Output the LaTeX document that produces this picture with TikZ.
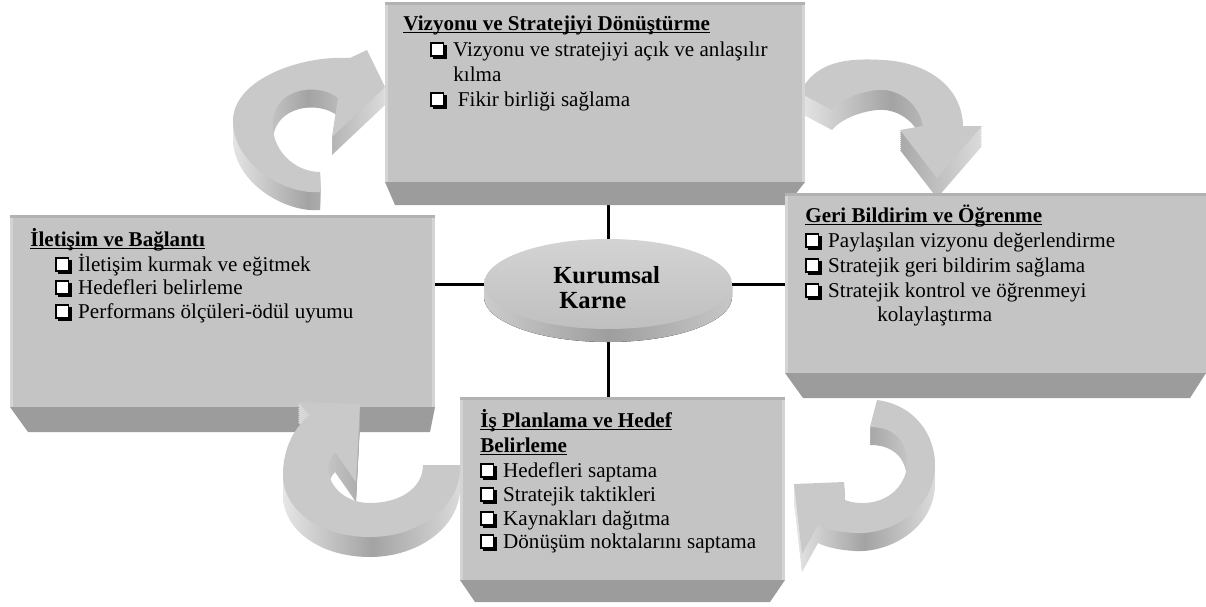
\documentclass[tikz,border=0pt]{standalone}
\usepackage{fontspec}
\setmainfont{Liberation Serif}
\usetikzlibrary{shapes.geometric}
\pgfdeclarelayer{back}
\pgfdeclarelayer{bg}
\pgfsetlayers{back,bg,main}
\definecolor{facec}{HTML}{C4C4C4}
\definecolor{bandc}{HTML}{9C9C9C}
\definecolor{edgec}{HTML}{D4D4D4}
\definecolor{topc}{HTML}{B2B2B2}
\newsavebox\ulbox
\newcommand\ulx[1]{\sbox\ulbox{#1}\rlap{\rule[-1.8pt]{\wd\ulbox}{0.9pt}}\usebox\ulbox}
\newcommand\cb{\tikz[baseline=0.3pt,x=1pt,y=1pt]{\fill[black] (1.4,-1.4) rectangle (9.2,6.6); \fill[white] (0,0) rectangle (7.8,8); \draw[line width=0.65pt] (0.33,0.33) rectangle (7.47,7.67);}}
% arrow outlines (pixel coordinates, y downward)
\newcommand\arrTL[1]{\path[#1] (320,172) -- (320,192) .. controls (285,195) and (235,165) .. (233,123) .. controls (231,80) and (300,55) .. (350,58) -- (367,50) -- (385,87) -- (332,137) -- (338,98) .. controls (318,82) and (276,88) .. (273,120) .. controls (270,150) and (295,172) .. (320,172) -- cycle;}
\newcommand\arrTR[1]{\path[#1] (800,93) .. controls (815,60) and (850,58) .. (883,60) .. controls (925,62) and (962,85) .. (963,126) -- (982,126) -- (937,178) -- (900,130) -- (923,126) .. controls (918,100) and (895,88) .. (877,90) .. controls (858,92) and (840,100) .. (832,110) -- cycle;}
\newcommand\arrBL[1]{\path[#1] (460,465) .. controls (462,505) and (420,537) .. (370,537) .. controls (320,537) and (283,510) .. (283,475) .. controls (283,450) and (293,428) .. (310,415) -- (298,402) -- (360,404) -- (356,482) -- (335,452) .. controls (318,470) and (335,503) .. (370,503) .. controls (400,503) and (423,488) .. (423,465) -- cycle;}
\newcommand\arrBR[1]{\path[#1] (877,400) .. controls (915,405) and (935,435) .. (935,465) .. controls (935,510) and (890,535) .. (855,533) .. controls (838,532) and (826,529) .. (818,525) -- (802,554) -- (794,484) -- (844,482) -- (845,500) .. controls (860,506) and (890,505) .. (903,480) .. controls (912,462) and (905,440) .. (893,433) .. controls (885,428) and (878,427) .. (870,427) -- cycle;}
\begin{document}
\begin{tikzpicture}[x=0.02cm,y=-0.02cm,
  face/.style={rectangle, fill=facec, inner sep=0pt, draw=none},
  band/.style={fill=bandc},
  edge/.style={fill=edgec},
  topedge/.style={fill=topc},
  txt/.style={anchor=base west, inner sep=0pt, font=\fontsize{12}{14}\selectfont},
  ttl/.style={anchor=base west, inner sep=0pt, font=\fontsize{12}{14}\selectfont\bfseries},
  ktxt/.style={anchor=base west, inner sep=0pt, font=\fontsize{14}{16}\selectfont\bfseries},
  conn/.style={line width=1.7pt, black},
  arrtop/.style={fill=black!21},
  arrside/.style={left color=black!10, right color=black!14, middle color=black!36},
  coreside/.style={left color=black!20, right color=black!22, middle color=black!38},
  coretop/.style={ellipse, inner sep=0pt, draw=none, top color=black!17, bottom color=black!25}]
\useasboundingbox (0,0) rectangle (1206,606);
\begin{pgfonlayer}{back}
\fill[white] (0,0) rectangle (1206,606);
\end{pgfonlayer}

% arrows behind boxes
\foreach \d in {18,16,...,2} {\arrTL{shift={(0,\d)}, arrside}}
\arrTL{arrtop}
\foreach \d in {20,18,...,2} {\arrTR{shift={(0,\d)}, arrside}}
\arrTR{arrtop}

% top box
\fill[band] (385,182) -- (805,182) -- (787,205) -- (395,205) -- cycle;
\node[face, minimum width=8.4cm, minimum height=3.6cm] (top) at (595,92) {};
\fill[topedge] (385,2) rectangle (805,5);
\fill[edge] (385,5) rectangle (388,182);
\fill[edge] (802,5) rectangle (805,182);

% left box
\fill[band] (10,407) -- (435,407) -- (430,432) -- (28,432) -- cycle;
\node[face, minimum width=8.5cm, minimum height=3.84cm] (lft) at (222.5,311) {};
\fill[topedge] (10,215) rectangle (435,218);
\fill[edge] (10,218) rectangle (13,407);
\fill[edge] (432,218) rectangle (435,407);

% right box
\fill[band] (785,373) -- (1206,373) -- (1190,398) -- (803,398) -- cycle;
\node[face, minimum width=8.42cm, minimum height=3.6cm] (rgt) at (995.5,283) {};
\fill[topedge] (785,193) rectangle (1206,196);
\fill[edge] (785,196) rectangle (788,373);

% bottom box
\fill[band] (460,580) -- (785,580) -- (770,602) -- (475,602) -- cycle;
\node[face, minimum width=6.5cm, minimum height=3.66cm] (bot) at (622.5,488.5) {};
\fill[topedge] (460,397) rectangle (785,400);
\fill[edge] (460,400) rectangle (463,580);
\fill[edge] (782,400) rectangle (785,580);

% arrows in front
\foreach \d in {20,18,...,2} {\arrBL{shift={(0,\d)}, arrside}}
\arrBL{arrtop}
\foreach \d in {18,16,...,2} {\arrBR{shift={(0,\d)}, arrside}}
\arrBR{arrtop}

% central disc
\fill[coreside] (484,284) -- (484,297) arc[start angle=180, end angle=0, x radius=124, y radius=45] -- (732,284) -- cycle;
\node[coretop, minimum width=4.96cm, minimum height=1.8cm] (core) at (608,284) {};
\node[ktxt] (k1) at (553,283) {Kurumsal};
\node[ktxt] (k2) at (559,308) {Karne};

% connectors behind
\begin{pgfonlayer}{bg}
\draw[conn] (core.center) -- (core.center |- top.center);
\draw[conn] (core.center) -- (core.center |- bot.center);
\draw[conn] (core.center) -- (core.center -| lft.center);
\draw[conn] (core.center) -- (core.center -| rgt.center);
\end{pgfonlayer}

% texts top box
\node[ttl] (t0) at (403,30) {\ulx{Vizyonu ve Stratejiyi Dönüştürme}};
\node[txt] (t1) at (430,56) {\cb\hspace{3.8pt}Vizyonu ve stratejiyi açık ve anlaşılır};
\node[txt] (t2) at (453,81) {kılma};
\node[txt] (t3) at (430,106) {\cb\hspace{6.5pt}Fikir birliği sağlama};

% texts left box
\node[ttl] (l0) at (30,246) {\ulx{İletişim ve Bağlantı}};
\node[txt] (l1) at (55,271) {\cb\hspace{3.8pt}İletişim kurmak ve eğitmek};
\node[txt] (l2) at (55,294) {\cb\hspace{3.8pt}Hedefleri belirleme};
\node[txt] (l3) at (55,318) {\cb\hspace{3.8pt}Performans ölçüleri-ödül uyumu};

% texts right box
\node[ttl] (r0) at (805,222) {\ulx{Geri Bildirim ve Öğrenme}};
\node[txt] (r1) at (805,247) {\cb\hspace{3.8pt}Paylaşılan vizyonu değerlendirme};
\node[txt] (r2) at (805,272) {\cb\hspace{3.8pt}Stratejik geri bildirim sağlama};
\node[txt] (r3) at (805,297) {\cb\hspace{3.8pt}Stratejik kontrol ve öğrenmeyi};
\node[txt] (r4) at (877,321) {kolaylaştırma};

% texts bottom box
\node[ttl] (b0) at (480,427) {\ulx{İş Planlama ve Hedef}};
\node[ttl] (b1) at (480,452) {\ulx{Belirleme}};
\node[txt] (b2) at (480,477) {\cb\hspace{3.8pt}Hedefleri saptama};
\node[txt] (b3) at (480,501) {\cb\hspace{3.8pt}Stratejik taktikleri};
\node[txt] (b4) at (480,525) {\cb\hspace{3.8pt}Kaynakları dağıtma};
\node[txt] (b5) at (480,548) {\cb\hspace{3.8pt}Dönüşüm noktalarını saptama};
\end{tikzpicture}
\end{document}
